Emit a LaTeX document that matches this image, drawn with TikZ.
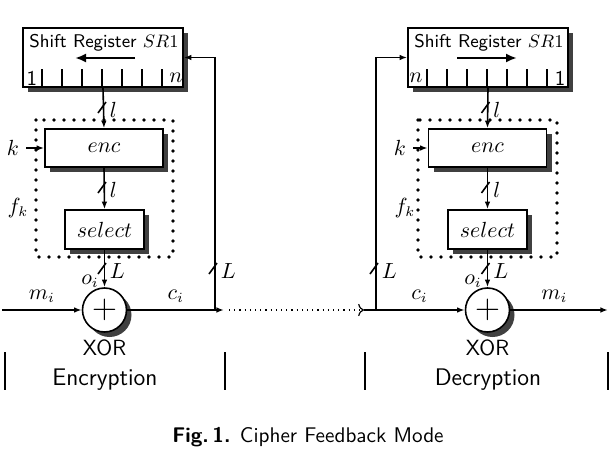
\documentclass[tikz,border=0pt]{standalone}
\usepackage{tikz}
\usetikzlibrary{arrows.meta, calc, shadows}
\tikzset{
  shade box/.style={draw, thick, fill=white, inner sep=0pt,
    drop shadow={shadow xshift=2.5pt, shadow yshift=-2.5pt, opacity=1, fill=black!75}},
  regbox/.style={shade box, minimum width=80pt, minimum height=29.5pt},
  funcbox/.style={shade box, minimum width=59pt, minimum height=19pt},
  selbox/.style={shade box, minimum width=39.5pt, minimum height=19.5pt},
  xorbox/.style={shade box, circle, minimum size=22pt},
  fkbox/.style={line width=1.9pt, dash pattern=on 0pt off 5pt, line cap=round},
  wire/.style={thick, -{Latex[length=3.8pt, width=2.8pt]}},
  bar/.style={thick},
  regtitle/.style={font=\sffamily\fontsize{9.2}{11}\selectfont},
  xorlab/.style={font=\sffamily\fontsize{11}{13}\selectfont}
}
\newcommand{\busmark}[2]{\draw[thick] #1 ++(-6,3) -- ++(8,-11);
  \node[anchor=west, inner sep=0pt] at ($#1+(5.5,0)$) {$#2$};}
\begin{document}
\begin{tikzpicture}[x=0.5pt, y=-0.5pt, font=\sffamily\fontsize{10.5}{12}\selectfont]
  \useasboundingbox (0,0) rectangle (616,455);
  % encryption
  \node[regbox] (regL) at (103,57.5) {};
  \node[regtitle] (titleL) at (104,43) {Shift Register $SR1$};
  \foreach \i in {1,...,7}
    \draw[thick] ($(regL.south west)+(20*\i,0)$) -- ++(0,-19);
  \node (oneL) at (32,78) {1};
  \node (nL) at (176,78) {$n$};
  \draw[very thick, -{Latex[length=5.5pt, width=4.5pt]}] (135,58) -- (75,58);
  \draw[fkbox] (36,120) rectangle (173,257);
  \node[funcbox] (encL) at (104,148) {$enc$};
  \node[selbox] (selL) at (104.5,229.5) {$select$};
  \node[xorbox] (xorL) at (104.5,310) {\LARGE $+$};
  \node (kL) at (13,148) {$k$};
  \node (fkL) at (18,208) {$f_k$};
  \node (oL) at (90,281) {$o_i$};
  \node[xorlab] (xlabL) at (104.5,348) {XOR};
  \coordinate (inL) at (2,310);
  \coordinate (jL) at (215,310);
  \coordinate (outL) at (224,310);
  \draw[wire] (kL.east) -- (encL.west);
  \draw[wire] (regL.south) -- (encL.north);
  \draw[wire] (encL.south) -- (selL.north);
  \draw[wire] (selL.south) -- (xorL.north);
  \draw[wire] (inL) -- node[above, pos=0.5] {$m_i$} (xorL.west);
  \draw[wire] (xorL.east) -- node[above, pos=0.5] {$c_i$} (outL);
  \draw[wire] (jL) |- (regL.east);
  \busmark{(104,110)}{l}
  \busmark{(104,190)}{l}
  \busmark{(104,271)}{L}
  \busmark{(215,271)}{L}
  \draw[bar] (5,352) -- (5,390);
  \draw[bar] (225,352) -- (225,390);
  \node[font=\sffamily\large] (encLab) at (105,380) {Encryption};
  % channel
  \coordinate (chA) at (229,310);
  \coordinate (chB) at (364,310);
  \draw[semithick, dotted, -{To}] (chA) -- (chB);
  % decryption
  \node[regbox] (regR) at (488,57.5) {};
  \node[regtitle] (titleR) at (489,43) {Shift Register $SR1$};
  \foreach \i in {1,...,7}
    \draw[thick] ($(regR.south west)+(20*\i,0)$) -- ++(0,-19);
  \node (nR) at (416,78) {$n$};
  \node (oneR) at (560,78) {1};
  \draw[very thick, -{Latex[length=5.5pt, width=4.5pt]}] (457,58) -- (517,58);
  \draw[fkbox] (418,120) rectangle (557,257);
  \node[funcbox] (encR) at (487.5,148) {$enc$};
  \node[selbox] (selR) at (487.5,229.5) {$select$};
  \node[xorbox] (xorR) at (487.5,310) {\LARGE $+$};
  \node (kR) at (400,148) {$k$};
  \node (fkR) at (405,208) {$f_k$};
  \node (oR) at (473,281) {$o_i$};
  \node[xorlab] (xlabR) at (487.5,348) {XOR};
  \coordinate (jR) at (376,310);
  \coordinate (outR) at (608,310);
  \draw[wire] (kR.east) -- (encR.west);
  \draw[wire] (regR.south) -- (encR.north);
  \draw[wire] (encR.south) -- (selR.north);
  \draw[wire] (selR.south) -- (xorR.north);
  \draw[wire] (chB) -- node[above, pos=0.55] {$c_i$} (xorR.west);
  \draw[wire] (xorR.east) -- node[above, pos=0.45] {$m_i$} (outR);
  \draw[wire] (jR) |- (regR.west);
  \busmark{(487.5,110)}{l}
  \busmark{(487.5,190)}{l}
  \busmark{(487.5,271)}{L}
  \busmark{(376,271)}{L}
  \draw[bar] (365,352) -- (365,390);
  \draw[bar] (608,352) -- (608,390);
  \node[font=\sffamily\large] (decLab) at (488,380) {Decryption};
  \node[font=\sffamily\fontsize{10.6}{12}\selectfont] (caption) at (308,437)
    {\textbf{Fig.\,1.} Cipher Feedback Mode};
\end{tikzpicture}
\end{document}
